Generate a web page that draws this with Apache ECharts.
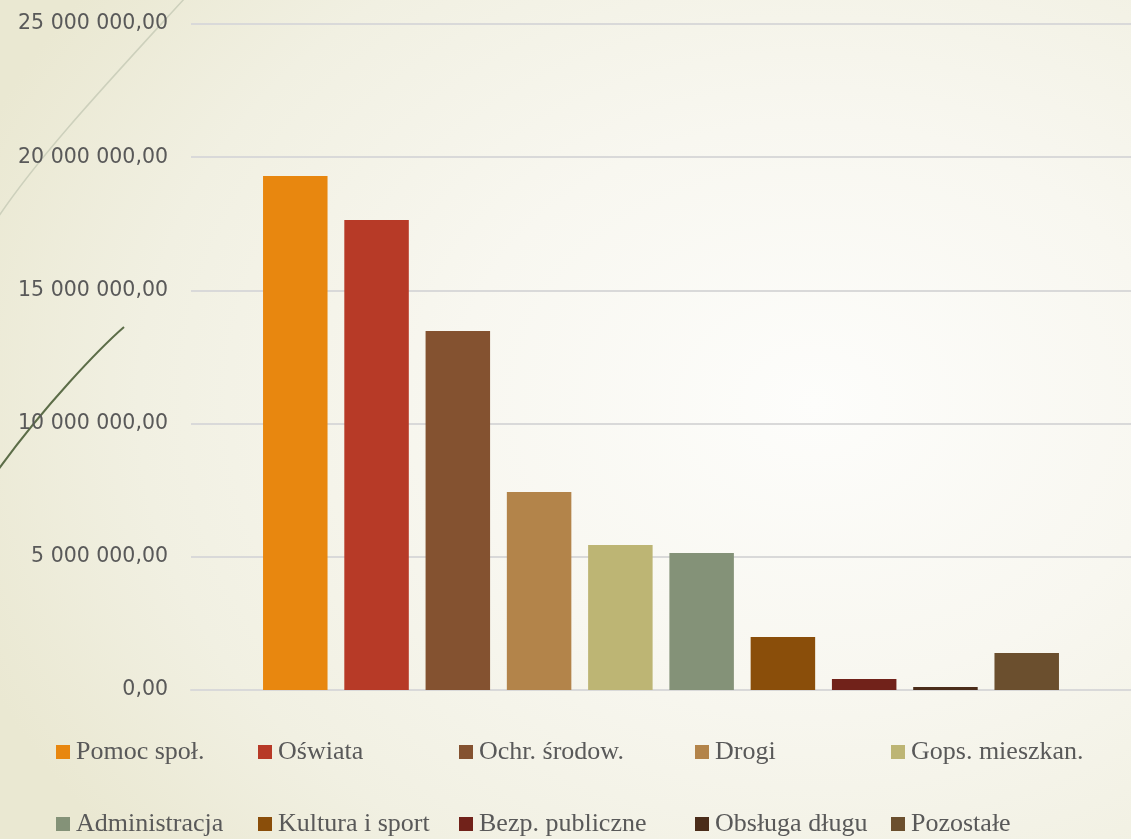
<!DOCTYPE html>
<html>
<head>
<meta charset="utf-8">
<script src="https://cdn.jsdelivr.net/npm/echarts@6/dist/echarts.min.js"></script>
<style>
html,body{margin:0;padding:0;width:1131px;height:839px;overflow:hidden;
background: radial-gradient(ellipse 900px 700px at 72% 48%, #fdfdfb 0%, #f8f7f0 40%, #f1f0e2 75%, #eae8d2 100%);}
#c{width:1131px;height:839px;}
</style>
</head>
<body>
<div id="c"></div>
<script>
const categories = [''];
const seriesNames = ['Pomoc społ.', 'Oświata', 'Ochr. środow.', 'Drogi', 'Gops. mieszkan.',
  'Administracja', 'Kultura i sport', 'Bezp. publiczne', 'Obsługa długu', 'Pozostałe'];
const seriesValues = [19290000, 17640000, 13480000, 7430000, 5440000,
  5140000, 1990000, 410000, 110000, 1390000];
const seriesColors = ['#E8870F', '#B73A27', '#845230', '#B3844A', '#BDB574',
  '#849278', '#8A4E0A', '#71221A', '#4B2D1A', '#6B4F2E'];
const yTicks = { min: 0, max: 25000000, interval: 5000000 };

// legend layout (style only)
const legendLeft = [56, 258, 459, 695, 891];
const legendTop = [739, 811];

function fmt(v) {
  const s = Math.round(v).toString().replace(/\B(?=(\d{3})+(?!\d))/g, ' ');
  return s + ',00';
}

const chart = echarts.init(document.getElementById('c'), null, {renderer: 'canvas'});

const series = seriesNames.map((name, i) => ({
  name: name,
  type: 'bar',
  data: [seriesValues[i]],
  barWidth: 64.5,
  barGap: '26%',
  itemStyle: { color: seriesColors[i] },
  emphasis: { disabled: true }
}));

const legends = seriesNames.map((name, i) => ({
  data: [name],
  left: legendLeft[i % 5],
  top: legendTop[Math.floor(i / 5)],
  itemWidth: 14,
  itemHeight: 14,
  icon: 'rect',
  padding: 0,
  selectedMode: false,
  textStyle: { fontFamily: 'Liberation Serif', fontSize: 26, color: '#595959', padding: [0, 0, 0, 1] }
}));

chart.setOption({
  animation: false,
  backgroundColor: 'transparent',
  graphic: [
    { type: 'bezierCurve', silent: true,
      shape: { x1: -5, y1: 222, x2: 185, y2: -2, cpx1: 35, cpy1: 160, cpx2: 110, cpy2: 80 },
      style: { stroke: '#cdd0bc', lineWidth: 1.5, fill: null } },
    { type: 'bezierCurve', silent: true,
      shape: { x1: 124, y1: 327, x2: -2, y2: 470, cpx1: 100, cpy1: 348, cpx2: 45, cpy2: 405 },
      style: { stroke: '#5c6d48', lineWidth: 2, fill: null } }
  ],
  grid: { left: 191, right: 0, top: 24, bottom: 149, containLabel: false },
  legend: legends,
  xAxis: {
    type: 'category',
    data: categories,
    axisLine: { show: true, lineStyle: { color: '#d9d9d9', width: 2 } },
    axisTick: { show: false },
    axisLabel: { show: false },
    splitLine: { show: false }
  },
  yAxis: {
    type: 'value',
    min: yTicks.min,
    max: yTicks.max,
    interval: yTicks.interval,
    axisLine: { show: false },
    axisTick: { show: false },
    axisLabel: {
      formatter: fmt,
      margin: 23,
      fontFamily: 'DejaVu Sans',
      fontSize: 20.5,
      color: '#595959'
    },
    splitLine: { lineStyle: { color: '#d9d9d9', width: 2 } }
  },
  series: series
});
</script>
</body>
</html>
